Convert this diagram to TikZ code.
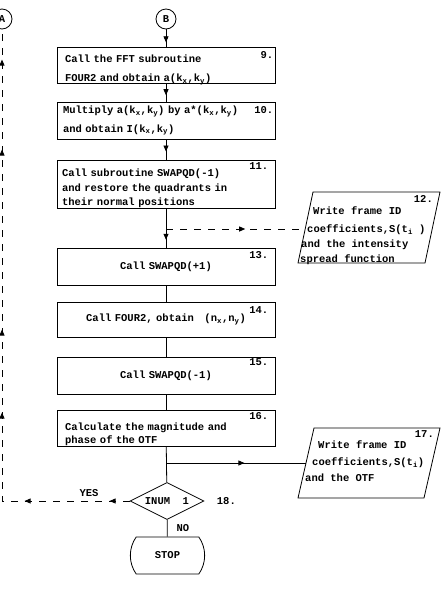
\documentclass[tikz,border=0pt]{standalone}
\usepackage{fontspec}
\setmonofont{Liberation Mono}
\usepackage{tikz}
\usetikzlibrary{shapes.geometric, shapes.misc, arrows.meta, decorations.markings}
\tikzstyle{process} = [draw, line width=0.8pt, minimum width=218pt, text width=202pt, inner xsep=8pt, inner ysep=2pt, align=left]
\tikzstyle{iotext} = [anchor=west, align=left, inner sep=0pt]
\tikzstyle{decision} = [diamond, draw, line width=0.8pt, aspect=2, minimum width=74pt, minimum height=37pt, inner sep=0pt]
\tikzstyle{terminal} = [rounded rectangle, rounded rectangle arc length=70, draw, line width=0.8pt, minimum width=81pt, minimum height=37pt]
\tikzstyle{connector} = [circle, draw, line width=0.8pt, minimum size=20pt, inner sep=0pt]
\tikzstyle{num} = [anchor=north east, inner sep=0pt]
\tikzstyle{line} = [line width=0.8pt]
\tikzstyle{back} = [line, dash pattern=on 7pt off 7pt]
\tikzset{midarrow/.style={decoration={markings, mark=at position #1 with {\arrow{Triangle[length=6pt, width=5pt]}}}, postaction={decorate}}}

\begin{document}
\begin{tikzpicture}[x=1pt, y=-1pt, font=\ttfamily\bfseries\fontsize{10.5pt}{12.6pt}\selectfont]
    \useasboundingbox (0,0) rectangle (441,592);

    % Connectors
    \node[connector] (A) at (2,19) {A};
    \node[connector] (B) at (166,19) {B};

    % Main column
    \node[process, inner ysep=0pt, text height=15.5pt, text depth=20.5pt] (fft) at (166,65) {Call the FFT subroutine\\[6.4pt]
        FOUR2 and obtain a(k\textsubscript{x},k\textsubscript{y})};
    \node[process, minimum height=37pt, inner xsep=6pt, text width=206pt] (multiply) at (166,120.5) {Multiply a(k\textsubscript{x},k\textsubscript{y}) by a*(k\textsubscript{x},k\textsubscript{y})\\[6pt]
        and obtain I(k\textsubscript{x},k\textsubscript{y})};
    \node[process, inner ysep=0pt, text height=16pt, text depth=32pt, inner xsep=5pt, text width=208pt] (restore) at (166,184) {Call subroutine SWAPQD(-1)\\[2.4pt]
        and restore the quadrants in\\[1.4pt]
        their normal positions};
    \node[process, minimum height=37pt, align=center] (swapplus) at (166,266.5) {Call SWAPQD(+1)};
    \node[process, minimum height=35pt, align=center] (four2) at (166,319.5) {Call FOUR2, obtain~~~(n\textsubscript{x},n\textsubscript{y})};
    \node[process, minimum height=37pt, align=center] (swapminus) at (166,375.5) {Call SWAPQD(-1)};
    \node[process, inner ysep=0pt, text height=20.5pt, text depth=15.5pt] (otf) at (166,428) {Calculate the magnitude and\\[0.4pt]
        phase of the OTF};
    \node[decision] (inum) at (167,501) {INUM~~1};
    \node[terminal] (stop) at (167.5,555.5) {STOP};

    % Step numbers
    \node[num] (n9) at ([xshift=-2pt, yshift=-5pt]fft.north east) {9.};
    \node[num] (n10) at ([xshift=-2pt, yshift=-5pt]multiply.north east) {10.};
    \node[num] (n11) at ([xshift=-7pt, yshift=-3pt]restore.north east) {11.};
    \node[num] (n13) at ([xshift=-7pt, yshift=-4pt]swapplus.north east) {13.};
    \node[num] (n14) at ([xshift=-7pt, yshift=-5pt]four2.north east) {14.};
    \node[num] (n15) at ([xshift=-7pt, yshift=-2pt]swapminus.north east) {15.};
    \node[num] (n16) at ([xshift=-7pt, yshift=-3pt]otf.north east) {16.};
    \node[anchor=west] (n18) at ([xshift=9pt]inum.east) {18.};

    % Output blocks
    \draw[line] (313,192) -- (440,192) -- (425,263) -- (298,263) -- cycle;
    \coordinate (isfin) at (305,229);
    \node[iotext] (isftext) at (299,236) {\hspace*{14pt}Write frame ID\\[5.4pt]
        \hspace*{8pt}coefficients,S(t\textsubscript{i} )\\[2.4pt]
        \hspace*{2pt}and the intensity\\[2.4pt]
        \hspace*{1pt}spread function};
    \node[num] (n12) at (433,195) {12.};
    \draw[line] (314,428) -- (440,428) -- (424,498) -- (298,498) -- cycle;
    \coordinate (otfin) at (306,463);
    \node[iotext] (otftext) at (303,461) {\hspace*{15pt}Write frame ID\\[5pt]
        \hspace*{9pt}coefficients,S(t\textsubscript{i})\\[3pt]
        \hspace*{2pt}and the OTF};
    \node[num] (n17) at (434,430) {17.};

    % Branch labels
    \node (yes) at (89,493) {YES};
    \node[anchor=west] (no) at (173,528) {NO};

    % Flow lines
    \draw[line, midarrow=0.75] (B) -- (fft);
    \draw[line, midarrow=0.65] (fft) -- (multiply);
    \draw[line, midarrow=0.6] (multiply) -- (restore);
    \draw[line, midarrow=0.8] (restore) -- (swapplus);
    \draw[line] (swapplus) -- (four2);
    \draw[line] (four2) -- (swapminus);
    \draw[line] (swapminus) -- (otf);
    \draw[line] (otf) -- (inum);
    \draw[line] (inum) -- (stop);
    \draw[back, midarrow=0.57] (restore.south |- isfin) -- (isfin);
    \draw[line, midarrow=0.56] (otf.south |- otfin) -- (otfin);

    % YES loop back to A
    \draw[back, decoration={markings,
        mark=at position 20pt with {\arrow[solid]{Triangle[length=6pt, width=5pt]}},
        mark=at position 105pt with {\arrow[solid]{Triangle[length=6pt, width=5pt]}},
        mark=at position 216pt with {\arrow[solid]{Triangle[length=6pt, width=5pt]}},
        mark=at position 299pt with {\arrow[solid]{Triangle[length=6pt, width=5pt]}},
        mark=at position 479pt with {\arrow[solid]{Triangle[length=6pt, width=5pt]}},
        mark=at position 569pt with {\arrow[solid]{Triangle[length=6pt, width=5pt]}}},
        postaction={decorate}] (inum.west) -- (A.south |- inum.west) -- (A.south);
\end{tikzpicture}
\end{document}
